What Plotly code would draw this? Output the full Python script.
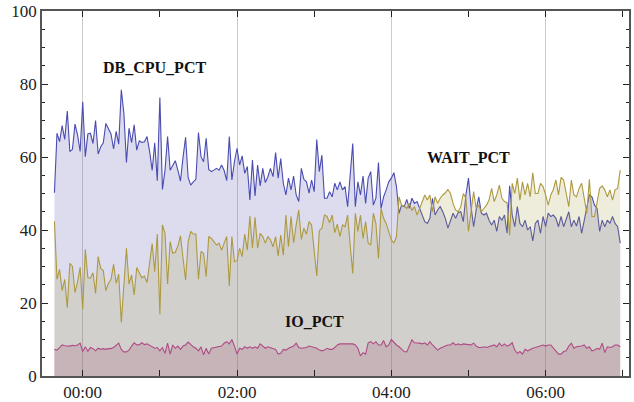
import pandas as pd
import plotly.graph_objects as go

start_time = "2024-01-01 23:38"
step = "2min"

db_cpu_pct = [
    50.2, 66.5, 64.2, 68.6, 64.8, 72.6, 61.5, 62.1, 69.0, 66.0,
    61.5, 75.1, 60.1, 66.3, 66.5, 63.7, 70.0, 60.8, 62.8, 63.9,
    69.2, 67.6, 66.3, 62.2, 67.0, 63.5, 78.4, 72.0, 58.5, 67.9,
    63.9, 68.8, 61.9, 64.4, 64.0, 64.2, 65.6, 61.6, 56.3, 63.9,
    53.5, 76.3, 51.1, 56.4, 65.6, 56.4, 57.8, 59.0, 56.4, 53.4,
    59.9, 65.4, 54.4, 52.3, 53.2, 53.9, 66.7, 60.1, 58.7, 65.1,
    56.6, 56.0, 56.4, 56.9, 56.4, 57.8, 56.3, 53.5, 65.6, 53.7,
    58.7, 62.4, 57.8, 60.3, 55.5, 57.4, 48.2, 59.2, 49.3, 57.8,
    52.1, 56.9, 53.0, 54.6, 56.9, 54.6, 61.2, 54.2, 59.6, 52.8,
    49.6, 54.2, 51.0, 54.8, 49.6, 47.8, 56.9, 53.9, 53.2, 50.1,
    53.7, 50.5, 64.8, 56.0, 60.5, 48.7, 48.7, 50.5, 49.1, 52.8,
    51.0, 53.2, 51.0, 51.9, 46.4, 56.4, 63.7, 46.4, 53.2, 49.6,
    54.8, 47.3, 54.2, 56.0, 46.8, 48.7, 58.5, 45.9, 49.1, 51.0,
    53.2, 54.2, 55.7, 51.9, 44.6, 46.8, 46.4, 48.4, 45.9, 48.7,
    47.3, 47.8, 45.9, 43.7, 42.3, 41.8, 43.2, 48.7, 44.1, 45.5,
    46.4, 45.0, 43.2, 40.5, 42.7, 44.6, 43.2, 44.8, 45.0, 42.3,
    49.6, 54.2, 46.4, 40.9, 45.5, 49.1, 44.6, 44.1, 44.6, 42.7,
    41.4, 42.7, 39.6, 43.7, 42.7, 44.1, 39.1, 52.1, 44.1, 40.9,
    46.4, 41.8, 40.9, 42.7, 40.0, 40.9, 37.0, 41.8, 42.7, 39.1,
    43.7, 40.9, 44.6, 43.7, 44.1, 43.2, 40.9, 43.7, 40.9, 42.7,
    45.0, 40.9, 42.7, 41.1, 43.7, 39.1, 42.7, 45.9, 49.6, 49.1,
    46.8, 45.9, 39.6, 42.7, 40.9, 42.7, 41.8, 43.7, 41.8, 40.9,
    36.4,
]

wait_pct = [
    42.4, 26.5, 29.2, 23.4, 26.5, 18.7, 30.9, 30.0, 22.9, 25.8,
    29.8, 18.3, 34.7, 27.0, 26.8, 28.3, 22.6, 32.7, 29.5, 28.9,
    23.4, 25.4, 26.5, 30.6, 25.4, 27.9, 14.7, 24.9, 35.0, 25.2,
    27.7, 22.2, 29.7, 28.3, 26.9, 27.4, 25.6, 30.9, 36.3, 28.6,
    38.9, 16.9, 41.4, 39.1, 25.2, 36.8, 33.6, 33.9, 35.6, 38.4,
    32.7, 26.3, 36.8, 39.6, 38.9, 38.9, 26.5, 34.1, 33.6, 27.2,
    38.2, 37.7, 36.8, 35.9, 36.4, 34.5, 36.4, 38.2, 24.7, 38.2,
    31.3, 31.6, 35.0, 32.7, 38.9, 34.5, 43.8, 35.0, 43.5, 35.0,
    39.1, 38.2, 36.4, 38.2, 37.3, 35.4, 38.2, 32.9, 38.6, 33.1,
    44.1, 35.4, 43.7, 36.5, 41.4, 45.5, 37.4, 40.5, 38.9, 42.3,
    41.4, 35.0, 27.4, 39.8, 40.5, 44.1, 43.7, 42.0, 44.1, 39.3,
    41.6, 38.2, 41.4, 40.9, 44.1, 35.9, 28.1, 44.6, 39.6, 44.1,
    37.7, 42.3, 36.4, 35.9, 44.6, 41.8, 32.2, 45.9, 43.2, 41.8,
    39.6, 37.3, 36.4, 38.2, 49.1, 46.8, 46.6, 45.9, 47.3, 45.3,
    46.4, 44.1, 45.9, 47.8, 49.6, 48.2, 49.6, 45.0, 49.1, 47.3,
    48.7, 49.6, 50.2, 51.1, 50.0, 47.3, 45.5, 45.0, 46.4, 50.0,
    48.7, 39.6, 45.0, 50.5, 45.9, 46.8, 45.0, 45.9, 46.8, 48.2,
    51.4, 47.8, 49.6, 52.3, 48.7, 47.8, 47.5, 38.6, 52.8, 50.0,
    54.2, 48.2, 53.2, 49.6, 52.8, 49.1, 55.7, 50.0, 50.0, 52.8,
    51.9, 49.6, 46.8, 49.6, 51.1, 53.7, 49.6, 54.4, 53.7, 50.0,
    46.4, 53.7, 49.6, 49.1, 51.4, 52.8, 48.9, 44.6, 53.9, 43.7,
    43.7, 48.2, 51.4, 52.1, 51.0, 49.1, 51.0, 48.2, 51.0, 51.4,
    56.4,
]

io_pct = [
    7.3, 7.1, 7.8, 8.5, 8.3, 8.2, 8.2, 8.4, 8.3, 8.5,
    9.0, 6.7, 8.0, 6.8, 7.8, 7.5, 6.9, 7.6, 7.3, 7.5,
    7.3, 7.5, 7.5, 7.8, 8.5, 9.0, 7.3, 6.6, 6.6, 7.1,
    8.2, 9.1, 8.5, 8.6, 9.1, 8.6, 8.8, 8.4, 8.0, 7.6,
    7.8, 6.9, 7.8, 6.2, 9.0, 6.0, 8.5, 7.6, 8.2, 7.3,
    8.2, 8.5, 9.3, 8.5, 8.0, 7.6, 6.9, 8.0, 5.8, 7.6,
    6.0, 7.6, 7.8, 7.8, 8.0, 8.2, 9.0, 9.4, 8.8, 10.0,
    8.2, 6.0, 7.6, 7.3, 8.0, 7.6, 8.0, 7.6, 8.0, 7.6,
    8.8, 8.2, 7.6, 8.0, 7.8, 7.6, 7.3, 6.0, 6.2, 7.3,
    7.1, 7.6, 7.8, 8.2, 9.0, 7.8, 7.6, 7.6, 7.8, 8.2,
    8.0, 8.0, 7.6, 7.1, 6.9, 7.1, 7.6, 7.3, 7.3, 7.8,
    8.5, 8.8, 8.8, 9.0, 8.8, 9.0, 8.8, 8.5, 7.6, 5.5,
    6.4, 6.0, 9.1, 9.4, 8.8, 9.4, 8.5, 8.5, 9.7, 8.0,
    8.5, 10.0, 9.1, 8.5, 8.0, 7.3, 6.7, 6.6, 8.5, 9.9,
    9.1, 9.1, 9.0, 8.8, 9.1, 8.5, 9.4, 8.5, 7.8, 7.1,
    7.6, 8.0, 8.2, 8.5, 8.5, 9.1, 8.5, 8.8, 8.5, 8.8,
    8.6, 8.6, 8.5, 9.0, 8.2, 7.8, 7.8, 8.0, 7.8, 8.0,
    8.2, 8.5, 8.0, 9.0, 8.2, 8.8, 8.2, 8.5, 9.1, 7.1,
    6.2, 6.7, 6.0, 7.3, 6.9, 7.3, 7.6, 7.8, 8.0, 8.2,
    8.5, 8.2, 8.5, 8.5, 7.6, 6.7, 6.0, 6.0, 6.7, 6.9,
    8.2, 9.0, 7.6, 8.0, 8.0, 8.2, 8.5, 7.6, 8.0, 6.9,
    7.1, 7.6, 7.3, 9.0, 6.4, 8.0, 7.8, 8.0, 8.5, 8.5,
    8.0,
]

series_names = ["DB_CPU_PCT", "WAIT_PCT", "IO_PCT"]
y_ticks = [0, 20, 40, 60, 80, 100]

times = pd.date_range(start=start_time, periods=len(db_cpu_pct), freq=step)

serif = "Liberation Serif"

fig = go.Figure()
fig.add_trace(go.Scatter(
    x=times, y=db_cpu_pct, mode="lines", name=series_names[0],
    line=dict(color="#4a4cb0", width=1.1),
    fill="tozeroy", fillcolor="rgba(80,80,170,0.2)",
))
fig.add_trace(go.Scatter(
    x=times, y=wait_pct, mode="lines", name=series_names[1],
    line=dict(color="#ad9a40", width=1.1),
    fill="tozeroy", fillcolor="rgba(170,160,70,0.2)",
))
fig.add_trace(go.Scatter(
    x=times, y=io_pct, mode="lines", name=series_names[2],
    line=dict(color="#b04a85", width=1.1),
    fill="tozeroy", fillcolor="rgba(150,70,105,0.2)",
))

label_pos = [
    ("2024-01-02 00:56", 84.5),
    ("2024-01-02 05:00", 60.0),
    ("2024-01-02 03:00", 14.8),
]
for name, (lx, ly) in zip(series_names, label_pos):
    fig.add_annotation(
        x=lx, y=ly, text="<b>%s</b>" % name, showarrow=False,
        font=dict(family=serif, size=16, color="#111111"),
    )

fig.update_layout(
    width=634, height=402,
    margin=dict(l=42, r=5, t=11, b=26),
    paper_bgcolor="white", plot_bgcolor="white",
    showlegend=False,
    font=dict(family=serif, size=17, color="#222222"),
)
fig.update_xaxes(
    type="date", automargin=False,
    range=["2024-01-01 23:28:20", "2024-01-02 07:04:50"],
    tickformat="%H:%M",
    tick0="2024-01-02 00:00", dtick=2 * 3600 * 1000,
    ticks="inside", ticklen=6, tickwidth=1, tickcolor="#222222",
    showline=True, linecolor="#555555", linewidth=1.6, mirror="ticks",
    showgrid=True, gridcolor="#cccccc", gridwidth=1,
    minor=dict(dtick=3600 * 1000, tick0="2024-01-02 00:00", ticks="inside",
               ticklen=6, tickcolor="#222222", showgrid=False),
    zeroline=False,
)
fig.update_yaxes(
    range=[0, 100], automargin=False,
    tickvals=y_ticks,
    ticks="inside", ticklen=6, tickwidth=1, tickcolor="#222222",
    showline=True, linecolor="#555555", linewidth=1.6, mirror="ticks",
    showgrid=False, zeroline=False,
    minor=dict(dtick=5, ticks="inside", ticklen=3.5, tickcolor="#222222", showgrid=False),
)

fig.write_html(
    "out.html",
    config={"displayModeBar": False},
    post_script="document.body.style.margin='0';document.body.style.overflow='hidden';",
)
